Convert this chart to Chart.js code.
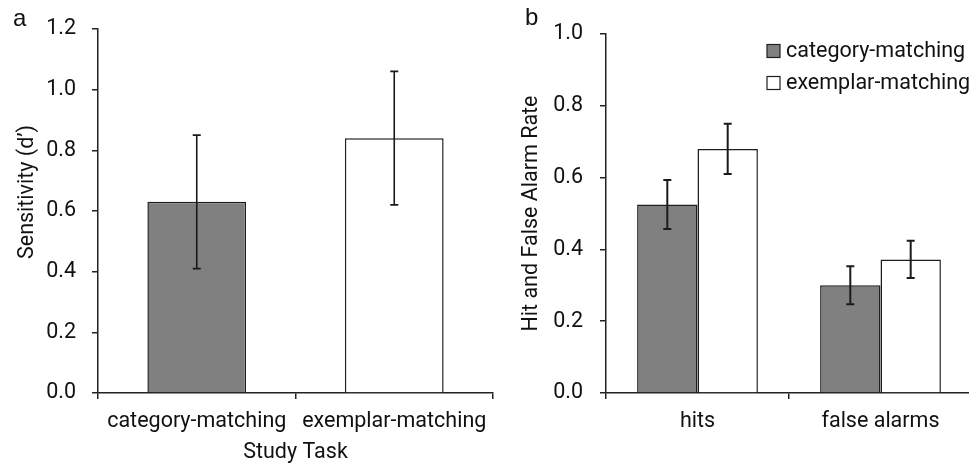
<!DOCTYPE html>
<html><head><meta charset="utf-8">
<script src="https://cdn.jsdelivr.net/npm/chart.js@4/dist/chart.umd.min.js"></script>
<style>
html,body{margin:0;padding:0;background:#fff;overflow:hidden;width:969px;height:467px;}
#wrap{position:relative;width:969px;height:467px;overflow:hidden;}
#ca{position:absolute;left:0;top:0;}
#cb{position:absolute;left:500px;top:0;}
</style></head><body>
<div id="wrap"><canvas id="ca" width="500" height="467"></canvas><canvas id="cb" width="480" height="467"></canvas></div>
<script>
// ---- data ----
const taskLabels = ['category-matching', 'exemplar-matching'];
const sensitivity = [0.63, 0.84];
const sensitivityErr = [0.22, 0.22];
const rateLabels = ['hits', 'false alarms'];
const seriesNames = ['category-matching', 'exemplar-matching'];
const categoryRates = [0.525, 0.30];
const categoryErr = [0.068, 0.053];
const exemplarRates = [0.68, 0.372];
const exemplarErr = [0.07, 0.052];
const panelLetters = ['a', 'b'];
const titleA = 'Sensitivity (d\u2019)';
const titleAX = 'Study Task';
const titleB = 'Hit and False Alarm Rate';

// ---- style ----
const FAMILY = 'Roboto, Lato, sans-serif';
const GRAY = '#808080', WHITE = '#ffffff', EDGE = '#1e1e1e', AX = '#222222', TXT = '#111111';
const FS = 21.5;
const font = {family: FAMILY, size: FS};

const errorBars = {
  id: 'errorBars',
  afterDatasetsDraw(chart, args, o) {
    const ctx = chart.ctx, y = chart.scales.y;
    chart.data.datasets.forEach((ds, i) => {
      if (!ds.errors) return;
      chart.getDatasetMeta(i).data.forEach((bar, j) => {
        const v = ds.data[j], e = ds.errors[j];
        const yt = y.getPixelForValue(v + e), yb = y.getPixelForValue(v - e);
        ctx.save();
        ctx.strokeStyle = o.color; ctx.lineWidth = o.width;
        ctx.beginPath();
        ctx.moveTo(bar.x, yt); ctx.lineTo(bar.x, yb);
        ctx.moveTo(bar.x - o.cap, yt); ctx.lineTo(bar.x + o.cap, yt);
        ctx.moveTo(bar.x - o.cap, yb); ctx.lineTo(bar.x + o.cap, yb);
        ctx.stroke(); ctx.restore();
      });
    });
  }
};

const extraText = {
  id: 'extraText',
  afterDraw(chart, args, o) {
    const ctx = chart.ctx;
    ctx.save();
    ctx.fillStyle = TXT;
    if (o.letter) {
      ctx.font = o.letterSize + 'px "Liberation Sans", Arial, sans-serif';
      ctx.textAlign = 'left'; ctx.textBaseline = 'alphabetic';
      ctx.fillText(o.letter, o.letterX, o.letterY);
    }
    if (o.yTitle) {
      ctx.font = FS + 'px ' + FAMILY;
      ctx.textAlign = 'center'; ctx.textBaseline = 'middle';
      ctx.translate(o.yTitleX, o.yTitleY);
      ctx.rotate(-Math.PI / 2);
      ctx.fillText(o.yTitle, 0, 0);
    }
    ctx.restore();
  }
};

const boxLegend = {
  id: 'boxLegend',
  afterDraw(chart, args, o) {
    if (!o.show) return;
    const ctx = chart.ctx;
    ctx.save();
    ctx.font = FS + 'px ' + FAMILY;
    ctx.textAlign = 'left'; ctx.textBaseline = 'middle';
    chart.data.datasets.forEach((ds, i) => {
      const cy = o.y + i * o.row;
      ctx.fillStyle = ds.backgroundColor;
      ctx.fillRect(o.x, cy - o.box / 2, o.box, o.box);
      ctx.strokeStyle = EDGE; ctx.lineWidth = 1.2;
      ctx.strokeRect(o.x, cy - o.box / 2, o.box, o.box);
      ctx.fillStyle = TXT;
      ctx.fillText(ds.label, o.x + o.box + o.gap, cy + 1);
    });
    ctx.restore();
  }
};

function axisY(min, max, width, pad, title) {
  return {
    min: min, max: max,
    ticks: {stepSize: 0.2, color: TXT, font: font, padding: pad, callback: v => Number(v).toFixed(1)},
    grid: {drawOnChartArea: false, drawTicks: true, tickLength: 6, color: AX, lineWidth: 1.5},
    border: {display: true, color: AX, width: 1.5},
    title: title,
    afterFit(s) { s.width = width; }
  };
}
function axisX(title) {
  return {
    ticks: {color: TXT, font: font, padding: 10, maxRotation: 0, autoSkip: false},
    grid: {drawOnChartArea: false, drawTicks: true, tickLength: 6, color: AX, lineWidth: 1.5, offset: true},
    border: {display: true, color: AX, width: 1.5},
    title: title,
    afterFit(s) { s.height = 74; }
  };
}
const common = {responsive: false, animation: false, devicePixelRatio: 1};

new Chart(document.getElementById('ca'), {
  type: 'bar',
  data: {labels: taskLabels, datasets: [{
    data: sensitivity, errors: sensitivityErr, backgroundColor: [GRAY, WHITE],
    borderColor: EDGE, borderWidth: 1.5, borderSkipped: 'start',
    categoryPercentage: 0.5, barPercentage: 1
  }]},
  options: Object.assign({}, common, {
    layout: {padding: {left: 0, top: 25, right: 7, bottom: 0}},
    plugins: {
      legend: {display: false}, tooltip: {enabled: false},
      errorBars: {color: '#1a1a1a', width: 1.6, cap: 4},
      extraText: {letter: panelLetters[0], letterSize: 24, letterX: 13, letterY: 26,
                  yTitle: titleA, yTitleX: 28, yTitleY: 192},
      boxLegend: {show: false}
    },
    scales: {
      x: axisX({display: true, text: titleAX, color: TXT, font: font, padding: {top: 0, bottom: 1}}),
      y: axisY(0, 1.2, 98, 16, {display: false})
    }
  }),
  plugins: [errorBars, extraText, boxLegend]
});

new Chart(document.getElementById('cb'), {
  type: 'bar',
  data: {labels: rateLabels, datasets: [
    {label: seriesNames[0], data: categoryRates, errors: categoryErr, backgroundColor: GRAY,
     borderColor: EDGE, borderWidth: 1.5, borderSkipped: 'start', categoryPercentage: 0.66, barPercentage: 1},
    {label: seriesNames[1], data: exemplarRates, errors: exemplarErr, backgroundColor: WHITE,
     borderColor: EDGE, borderWidth: 1.5, borderSkipped: 'start', categoryPercentage: 0.66, barPercentage: 1}
  ]},
  options: Object.assign({}, common, {
    layout: {padding: {left: 0, top: 34, right: 8, bottom: 0}},
    plugins: {
      legend: {display: false}, tooltip: {enabled: false},
      errorBars: {color: '#1a1a1a', width: 2, cap: 4},
      extraText: {letter: panelLetters[1], letterSize: 24, letterX: 25, letterY: 25},
      boxLegend: {show: true, x: 267, y: 51, row: 32, box: 13, gap: 6}
    },
    scales: {
      x: axisX({display: false}),
      y: axisY(0, 1.0, 106, 17, {display: true, text: titleB, color: TXT, font: font, padding: {top: 19, bottom: 0}})
    }
  }),
  plugins: [errorBars, extraText, boxLegend]
});
</script>
</body></html>
